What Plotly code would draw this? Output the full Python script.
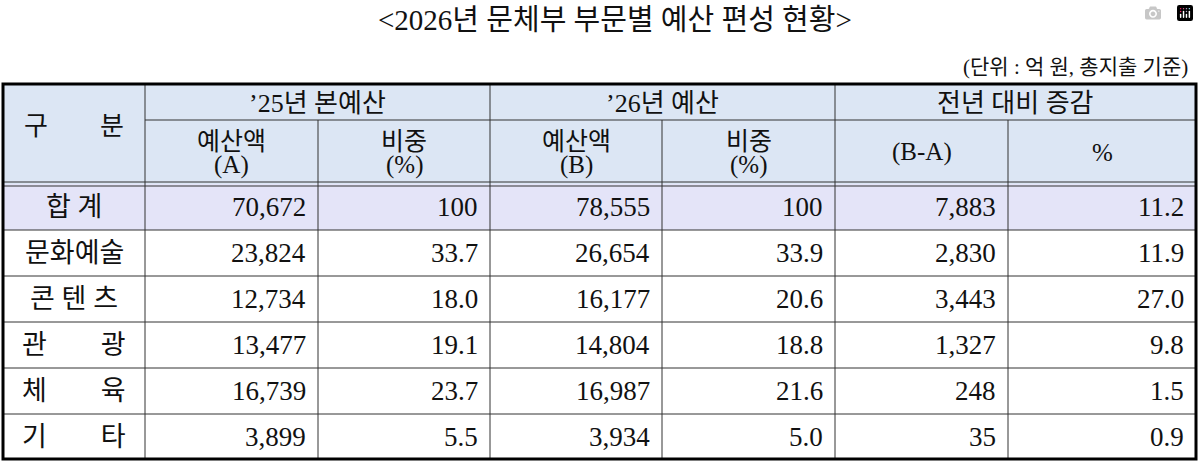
import plotly.graph_objects as go

title = "<2026년 문체부 부문별 예산 편성 현황>"
unit = "(단위 : 억 원, 총지출 기준)"
categories = ["합 계", "문화예술", "콘 텐 츠", "관　　광", "체　　육", "기　　타"]
budget25 = ["70,672", "23,824", "12,734", "13,477", "16,739", "3,899"]
share25 = ["100", "33.7", "18.0", "19.1", "23.7", "5.5"]
budget26 = ["78,555", "26,654", "16,177", "14,804", "16,987", "3,934"]
share26 = ["100", "33.9", "20.6", "18.8", "21.6", "5.0"]
diff = ["7,883", "2,830", "3,443", "1,327", "248", "35"]
diffpct = ["11.2", "11.9", "27.0", "9.8", "1.5", "0.9"]
groups = ["’25년 본예산", "’26년 예산", "전년 대비 증감"]
subheads = [("예산액", "(A)"), ("비중", "(%)"), ("예산액", "(B)"), ("비중", "(%)"), ("(B-A)", None), ("%", None)]

xs = [3, 145, 318, 490, 662, 835, 1008, 1196]
y_top, y_h1, y_h2 = 84, 120, 184
row_h = 46
ys = [y_h2 + i * row_h for i in range(7)]
ys[-1] = 459

F = "Liberation Serif, Noto Sans CJK KR, serif"
HDR = "#dce6f4"
TOT = "#e4e4f8"
shapes, ann = [], []

def rect(x0, y0, x1, y1, fill):
    shapes.append(dict(type="rect", x0=x0, x1=x1, y0=y0, y1=y1, fillcolor=fill, line=dict(width=0), layer="below"))

def line(x0, y0, x1, y1, w=1, c="#333"):
    shapes.append(dict(type="line", x0=x0, x1=x1, y0=y0, y1=y1, line=dict(color=c, width=w)))

def text(x, y, t, anchor="center", size=25):
    ann.append(dict(x=x, y=y, text=t, showarrow=False, xanchor=anchor, yanchor="middle",
                    font=dict(family=F, size=size, color="#111")))

rect(xs[0], y_top, xs[-1], y_h2, HDR)
rect(xs[0], ys[0], xs[-1], ys[1], TOT)

text((xs[0] + xs[1]) / 2, (y_top + y_h2) / 2 - 8, "구　　분", size=26)
for g in range(3):
    text((xs[1 + 2 * g] + xs[3 + 2 * g]) / 2, (y_top + y_h1) / 2 + 1, groups[g], size=26)
for i, (a, b) in enumerate(subheads):
    xc = (xs[1 + i] + xs[2 + i]) / 2
    if b is None:
        text(xc, (y_h1 + y_h2) / 2, a, size=25)
    else:
        text(xc, (y_h1 + y_h2) / 2 - 11, a, size=25)
        text(xc, (y_h1 + y_h2) / 2 + 13, b, size=25)

cols = [budget25, share25, budget26, share26, diff, diffpct]
for r in range(6):
    yc = (ys[r] + ys[r + 1]) / 2
    text((xs[0] + xs[1]) / 2, yc, categories[r], size=27)
    for c in range(6):
        text(xs[c + 2] - 10, yc, cols[c][r], anchor="right", size=27)

line(xs[1], y_h1, xs[-1], y_h1)
for i in range(1, 7):
    y0 = y_top if i % 2 == 1 else y_h1
    line(xs[i], y0, xs[i], ys[-1])
line(xs[0], y_h2 - 2, xs[-1], y_h2 - 2, 1.2)
line(xs[0], y_h2 + 2, xs[-1], y_h2 + 2, 1.2)
for r in range(1, 6):
    line(xs[0], ys[r], xs[-1], ys[r])
shapes.append(dict(type="rect", x0=xs[0], x1=xs[-1], y0=y_top, y1=ys[-1], line=dict(color="#000", width=3)))

text(615, 20, title, size=29)
text(1190, 67, unit, anchor="right", size=21)

fig = go.Figure()
fig.update_layout(width=1199, height=463, margin=dict(l=0, r=0, t=0, b=0),
                  plot_bgcolor="white", paper_bgcolor="white",
                  xaxis=dict(range=[0, 1199], visible=False, fixedrange=True),
                  yaxis=dict(range=[463, 0], visible=False, fixedrange=True),
                  shapes=shapes, annotations=ann, showlegend=False)
fig.write_html("out.html", post_script="document.body.style.margin='0';document.body.style.overflow='hidden';")
